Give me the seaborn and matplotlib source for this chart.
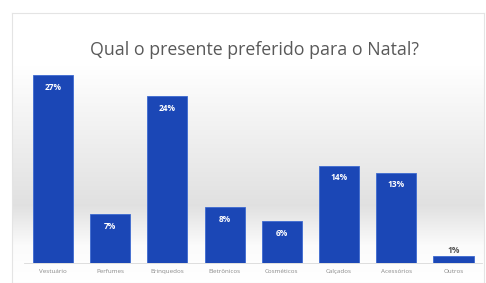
import numpy as np
import pandas as pd
import matplotlib
matplotlib.use('Agg')
import matplotlib.pyplot as plt
import seaborn as sns
from matplotlib.colors import LinearSegmentedColormap

# Data
categorias = ['Vestuário', 'Perfumes', 'Brinquedos', 'Eletrônicos', 'Cosméticos',
              'Calçados', 'Acessórios', 'Outros']
percentuais = [27, 7, 24, 8, 6, 14, 13, 1]

df = pd.DataFrame({'categoria': categorias, 'pct': percentuais})

sns.set_style('white')
plt.rcParams['font.family'] = ['Open Sans', 'DejaVu Sans']

fig = plt.figure(figsize=(4.86, 2.83), dpi=100)

# background panel: white on top, gray band, lighter near the baseline
bg = fig.add_axes([0.025, 0.0, 0.97, 0.955])
rows = np.arange(13, 283)
grad = np.interp(rows, [13, 65, 205, 245, 283], [1.0, 1.0, 0.70, 0.96, 1.0])
cmap = LinearSegmentedColormap.from_list('g', ['#9a9a9a', '#ffffff'])
bg.imshow(grad[:, None], aspect='auto', cmap=cmap, vmin=0, vmax=1,
          extent=[0, 1, 0, 1], origin='upper')
bg.set_xticks([])
bg.set_yticks([])
for s in bg.spines.values():
    s.set_color('#e4e4e4')
    s.set_linewidth(0.8)

ax = fig.add_axes([0.05, 0.07, 0.942, 0.68])
ax.patch.set_alpha(0)
sns.barplot(data=df, x='categoria', y='pct', color='#1b47b6', saturation=1,
            width=0.7, edgecolor='#3d6ad0', linewidth=0.6, ax=ax)
ax.set_ylim(0, 27.6)
ax.set_xlim(-0.5, 7.5)
ax.set_xlabel('')
ax.set_ylabel('')
ax.set_yticks([])
ax.tick_params(axis='x', length=0, labelsize=4.5, labelcolor='#8a8a8a', pad=4)
sns.despine(ax=ax, left=True, top=True, right=True)
ax.spines['bottom'].set_color('#d8d8d8')
ax.spines['bottom'].set_linewidth(0.6)

for i, v in enumerate(percentuais):
    if v > 3:
        ax.text(i, v - 1.1, f'{v}%', ha='center', va='top', color='white',
                fontsize=6, fontweight='bold')
    else:
        ax.text(i, v + 0.2, f'{v}%', ha='center', va='bottom', color='#555555',
                fontsize=6, fontweight='bold')

fig.text(0.523, 0.825, 'Qual o presente preferido para o Natal?', ha='center',
         va='center', fontsize=12.8, color='#595959')

fig.savefig('out.png', dpi=100)
